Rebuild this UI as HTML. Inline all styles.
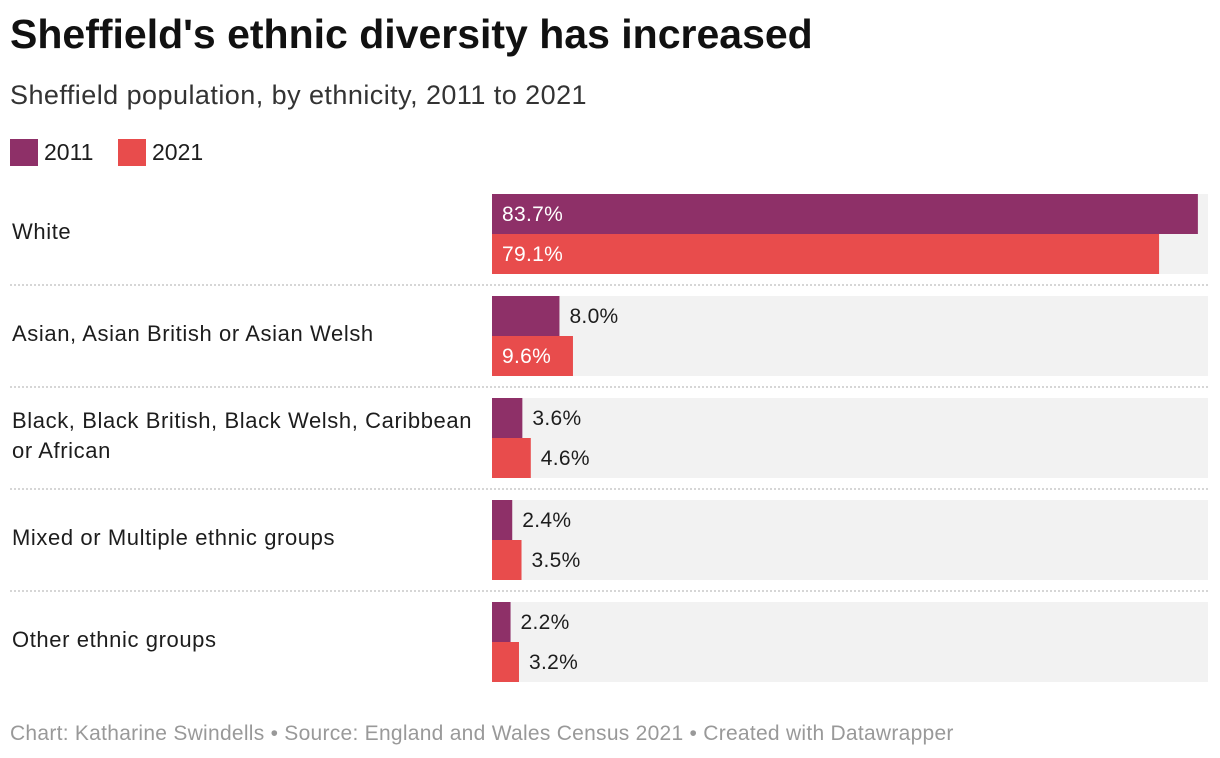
<!DOCTYPE html>
<html><head><meta charset="utf-8">
<style>
body{margin:0;width:1220px;height:758px;background:#fff;font-family:"Liberation Sans",Roboto,sans-serif;position:relative;overflow:hidden;color:#1d1d1d}
.t{position:absolute;white-space:nowrap}
</style></head><body>
<div class="t" style="left:10px;top:11px;font-size:41px;font-weight:bold;color:#111">Sheffield's ethnic diversity has increased</div>
<div class="t" style="left:10px;top:80px;font-size:27px;letter-spacing:0.45px;color:#333">Sheffield population, by ethnicity, 2011 to 2021</div>
<div>
<div class="t" style="left:10px;top:139px;width:28px;height:27px;background:#8e3068"></div>
<div class="t" style="left:44px;top:139px;font-size:23px">2011</div>
<div class="t" style="left:118px;top:139px;width:28px;height:27px;background:#e84c4c"></div>
<div class="t" style="left:152px;top:139px;font-size:23px">2021</div>
</div>
<svg id="chart" width="1220" height="758" style="position:absolute;left:0;top:0;font-family:'Liberation Sans',sans-serif"></svg>
<div class="t" style="left:10px;top:722px;font-size:21px;letter-spacing:0.27px;color:#999">Chart: Katharine Swindells • Source: England and Wales Census 2021 • Created with Datawrapper</div>
<script>
const categories=[["White"],["Asian, Asian British or Asian Welsh"],["Black, Black British, Black Welsh, Caribbean","or African"],["Mixed or Multiple ethnic groups"],["Other ethnic groups"]];
const values2011=[83.7,8.0,3.6,2.4,2.2];
const values2021=[79.1,9.6,4.6,3.5,3.2];
const xMax=84.9;
const svg=document.getElementById('chart');
const NS='http://www.w3.org/2000/svg';
const x0=492,x1=1208;
const xs=v=>(v/xMax)*(x1-x0);
function el(tag,attrs){const e=document.createElementNS(NS,tag);for(const k in attrs)e.setAttribute(k,attrs[k]);svg.appendChild(e);return e;}
categories.forEach((cat,i)=>{
  const y=194+i*102;
  const bg=el('rect',{x:x0,y:y,width:x1-x0,height:80,fill:'#f2f2f2'});
  
  
  const lines=cat.length;
  cat.forEach((ln,j)=>{
    const t=el('text',{x:12,y:y+40+5+(j-(lines-1)/2)*30,'font-size':22,'letter-spacing':0.6,fill:'#1d1d1d'});
    t.textContent=ln;
    
    
  });
  [[values2011[i],'#8e3068',0],[values2021[i],'#e84c4c',40]].forEach(([v,c,off])=>{
    const w=xs(v);
    const r=el('rect',{x:x0,y:y+off,width:w,height:40,fill:c});
    
    
    const label=v.toFixed(1)+'%';
    const inside=w>75;
    const t=el('text',{x:inside?x0+10:x0+w+10,y:y+off+27,'font-size':21,'letter-spacing':0.3,fill:inside?'#fff':'#1d1d1d'});
    t.textContent=label;
    
    
  });
  if(i<categories.length-1){
    const l=el('line',{x1:10,x2:1208,y1:y+91,y2:y+91,stroke:'#c8c8c8','stroke-width':1.5,'stroke-dasharray':'2,2'});
    
    
  }
});
</script>
</body></html>
